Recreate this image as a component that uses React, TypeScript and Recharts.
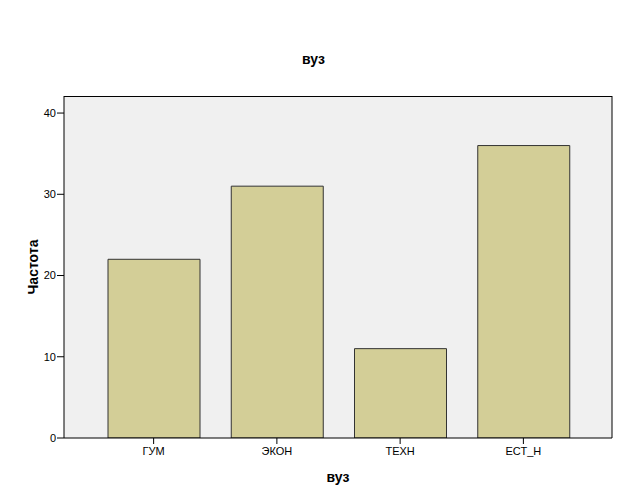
import { BarChart, Bar, XAxis, YAxis, CartesianGrid } from 'recharts'

const categories = ['ГУМ', 'ЭКОН', 'ТЕХН', 'ЕСТ_Н']
const counts = [22, 31, 11, 36]
const yTicks = [0, 10, 20, 30, 40]

const data = categories.map((name, i) => ({ name, count: counts[i] }))

const font = '"Liberation Sans", Arial, sans-serif'
const tickStyle = { fill: '#000', fontSize: 11, fontFamily: font }

export default function App() {
  return (
    <div style={{ position: 'absolute', left: 0, top: 0, width: 627, height: 502, background: '#fff' }}>
      <div
        style={{
          position: 'absolute', left: 0, top: 51, width: 627, textAlign: 'center',
          fontFamily: font, fontWeight: 'bold', fontSize: 14, color: '#000',
        }}
      >
        вуз
      </div>
      <BarChart width={627} height={502} data={data} margin={{ top: 96, right: 15, left: 0, bottom: 0 }}>
        <CartesianGrid fill="#f0f0f0" horizontal={false} vertical={false} />
        {/* frame: top and right edges of the plot area */}
        <CartesianGrid
          fill="none"
          stroke="#000"
          horizontalPoints={[96.5]}
          verticalPoints={[612]}
          horizontalFill={[]}
          verticalFill={[]}
        />
        <XAxis
          dataKey="name"
          height={64}
          padding={{ left: 28, right: 27 }}
          tick={tickStyle}
          tickSize={6}
          tickMargin={3}
          tickLine={{ stroke: '#000' }}
          axisLine={{ stroke: '#000' }}
          label={{ value: 'вуз', position: 'insideBottom', offset: 20, fill: '#000', fontSize: 14, fontWeight: 'bold', fontFamily: font }}
        />
        <YAxis
          width={64}
          domain={[0, 42.1]}
          ticks={yTicks}
          allowDataOverflow
          tick={tickStyle}
          tickSize={7}
          tickMargin={1}
          tickLine={{ stroke: '#000' }}
          axisLine={{ stroke: '#000' }}
          label={{ value: 'Частота', angle: -90, position: 'insideLeft', offset: 33, style: { textAnchor: 'middle' }, fill: '#000', fontSize: 14, fontWeight: 'bold', fontFamily: font }}
        />
        <Bar dataKey="count" fill="#d3ce97" stroke="#333" strokeWidth={1} barSize={92} isAnimationActive={false} />
      </BarChart>
    </div>
  )
}
